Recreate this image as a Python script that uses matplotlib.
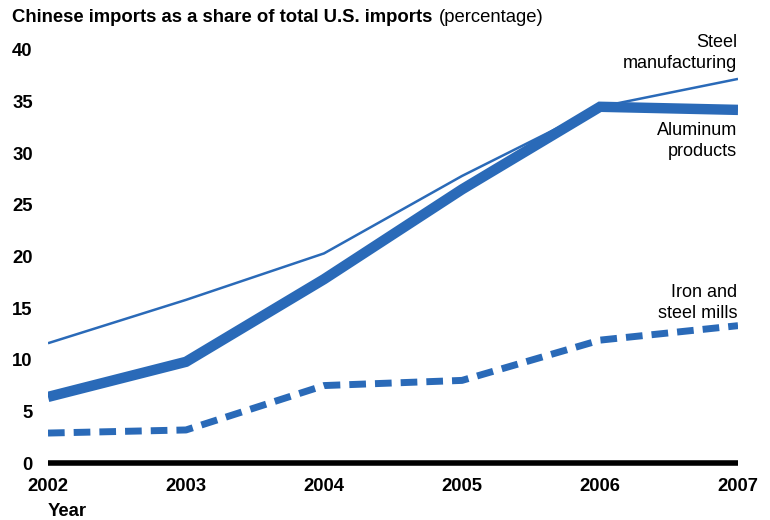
import numpy as np
import matplotlib
matplotlib.use("Agg")
import matplotlib.pyplot as plt

# data
years = [2002, 2003, 2004, 2005, 2006, 2007]
steel_mfg = [11.6, 15.8, 20.3, 27.8, 34.5, 37.2]
aluminum = [6.4, 9.8, 17.8, 26.5, 34.5, 34.2]
iron_steel_mills = [2.9, 3.2, 7.5, 8.0, 11.9, 13.3]
yticks = [0, 5, 10, 15, 20, 25, 30, 35, 40]

blue = "#2a6ab8"
plt.rcParams['font.family'] = ['Liberation Sans', 'DejaVu Sans']

fig = plt.figure(figsize=(7.7, 5.2), dpi=100)
ax = fig.add_axes([48/770, 57/520, 690/770, 413/520])

ax.plot(years, steel_mfg, color=blue, lw=1.8, solid_capstyle='butt')
ax.plot(years, aluminum, color=blue, lw=7.5, solid_capstyle='butt', solid_joinstyle='miter')
ax.plot(years, iron_steel_mills, color=blue, lw=5, dashes=(2.4, 1.3), dash_capstyle='butt')

ax.set_xlim(2002, 2007)
ax.set_ylim(0, 40)
for s in ['top', 'right', 'left']:
    ax.spines[s].set_visible(False)
ax.spines['bottom'].set_linewidth(4)
ax.spines['bottom'].set_capstyle('butt')
ax.set_xticks(years)
ax.set_yticks(yticks)
ax.tick_params(length=0)
ax.tick_params(axis='y', pad=11)
ax.tick_params(axis='x', pad=11)
for lab in ax.get_xticklabels() + ax.get_yticklabels():
    lab.set_fontweight('bold')
    lab.set_fontsize(13.3)

# title
fig.text(12/770, 1 - 18/520, "Chinese imports as a share of total U.S. imports",
         fontsize=13.3, fontweight='bold', va='center', ha='left')
t = fig.texts[-1]
fig.canvas.draw()
bb = t.get_window_extent()
fig.text(bb.x1/770 + 7/770, 1 - 18/520, "(percentage)", fontsize=13.3, va='center', ha='left')

fig.text(48/770, 1 - 512/520, "Year", fontsize=13.3, fontweight='bold', va='center', ha='left')

# series labels
lab_kw = dict(fontsize=13, ha='right', va='center', linespacing=1.25, transform=fig.transFigure)
ax.text(737/770, 1 - 53/520, "Steel\nmanufacturing", **lab_kw)
ax.text(737/770, 1 - 141/520, "Aluminum\nproducts", **lab_kw)
ax.text(737/770, 1 - 303/520, "Iron and\nsteel mills", **lab_kw)

fig.savefig("out.png", dpi=100)
